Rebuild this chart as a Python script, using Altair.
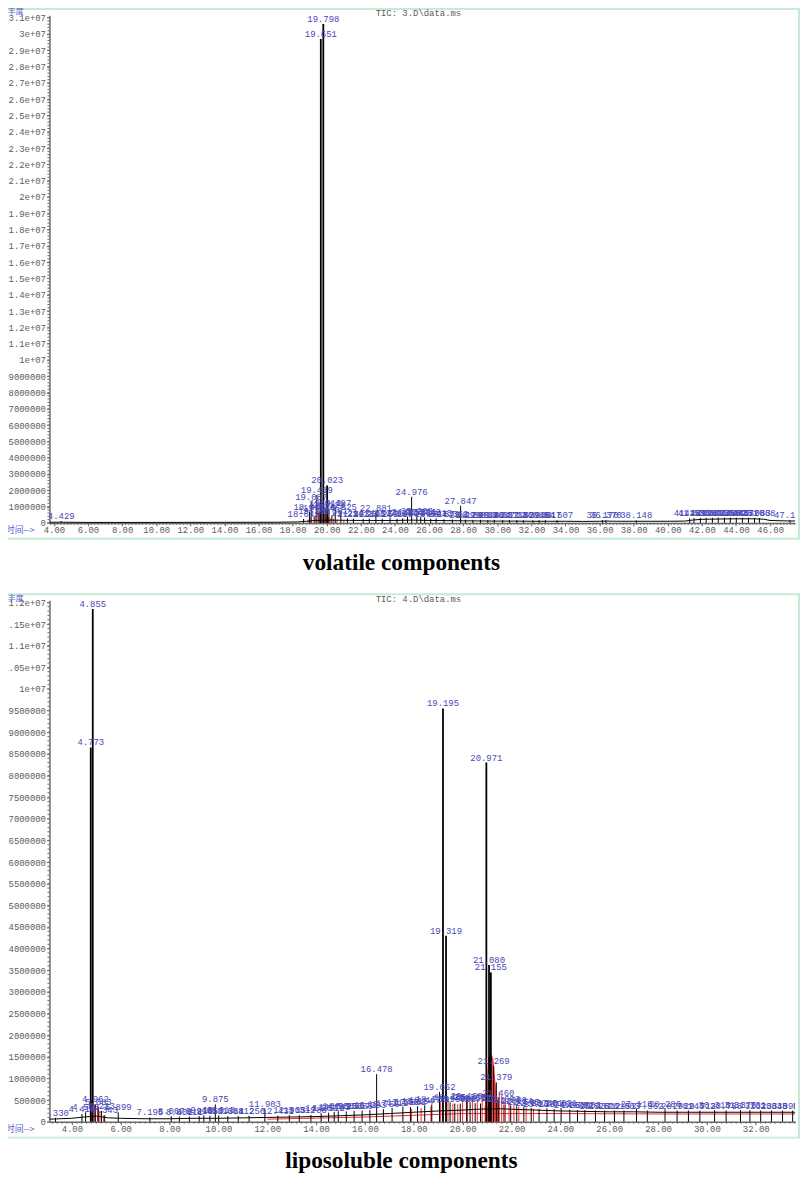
import altair as alt
import pandas as pd

# ---------------- volatile components (upper chromatogram) ----------------
vol_trace_t = [3.74, 4.30, 4.43, 4.55, 6.0, 10.0, 14.0, 17.0, 18.3, 18.8, 19.3, 20.3, 21.0, 22.0,
               23.0, 24.0, 25.0, 26.0, 27.0, 28.0, 29.0, 30.0, 31.0, 32.0, 33.0, 34.0, 35.0, 36.0,
               36.4, 37.0, 38.0, 39.0, 40.0, 41.0, 41.5, 42.0, 43.0, 44.0, 45.0, 45.6, 46.0, 47.0, 47.46]
vol_trace_v = [40000, 40000, 60000, 40000, 30000, 30000, 35000, 40000, 60000, 100000, 150000, 170000,
               160000, 150000, 150000, 150000, 170000, 150000, 140000, 130000, 120000, 110000, 110000,
               100000, 100000, 100000, 90000, 100000, 110000, 100000, 100000, 100000, 100000, 110000,
               180000, 220000, 240000, 250000, 250000, 230000, 150000, 120000, 120000]

vol_peak_t = [4.429, 18.642, 18.985, 19.087, 19.262, 19.419, 19.534, 19.651, 19.798, 19.912,
              20.023, 20.128, 20.301, 20.497, 20.825, 21.214, 21.563, 22.134, 22.495, 22.881,
              23.253, 23.712, 24.118, 24.452, 24.735, 24.976, 25.283, 25.511, 25.742, 26.094,
              26.413, 26.871, 27.362, 27.847, 28.129, 28.566, 29.013, 29.446, 29.824, 30.317,
              30.712, 31.146, 31.529, 32.088, 32.454, 32.817, 33.507, 36.170, 36.370, 38.148,
              41.281, 41.533, 41.908, 42.247, 42.612, 42.955, 43.318, 43.662, 44.015, 44.371,
              44.726, 45.083, 45.368, 47.164]
vol_peak_v = [90000, 250000, 700000, 1300000, 400000, 1700000, 600000, 29700000, 30620000, 900000,
              2300000, 800000, 450000, 900000, 700000, 280000, 260000, 250000, 260000, 620000,
              250000, 330000, 250000, 280000, 380000, 1600000, 400000, 380000, 340000, 260000,
              280000, 220000, 210000, 1050000, 200000, 190000, 190000, 180000, 180000, 180000,
              170000, 170000, 170000, 160000, 160000, 160000, 160000, 170000, 170000, 150000,
              280000, 300000, 300000, 310000, 310000, 320000, 320000, 320000, 320000, 320000,
              320000, 310000, 300000, 160000]

vol_red_t = [18.90, 19.02, 19.35, 19.58, 19.72, 19.86, 19.97, 20.09, 20.20, 20.40, 20.60, 21.00]
vol_red_v = [200000, 350000, 500000, 700000, 800000, 600000, 450000, 400000, 300000, 250000, 200000, 180000]

vol_x_ticks = [4, 6, 8, 10, 12, 14, 16, 18, 20, 22, 24, 26, 28, 30, 32, 34, 36, 38, 40, 42, 44, 46]
vol_y_ticks = [i * 1000000 for i in range(32)]

# ---------------- liposoluble components (lower chromatogram) ----------------
lip_trace_t = [3.08, 3.5, 4.0, 4.5, 5.0, 5.5, 6.0, 7.0, 8.0, 9.0, 10.0, 11.0, 12.0, 13.0, 14.0, 15.0,
               16.0, 17.0, 18.0, 19.0, 20.0, 20.6, 21.6, 22.0, 23.0, 24.0, 25.0, 26.0, 27.0, 28.0,
               29.0, 30.0, 31.0, 32.0, 33.0, 33.61]
lip_trace_v = [60000, 70000, 80000, 110000, 130000, 90000, 80000, 70000, 70000, 80000, 80000, 90000,
               100000, 110000, 120000, 140000, 160000, 190000, 220000, 250000, 270000, 290000, 300000,
               290000, 270000, 250000, 240000, 230000, 230000, 220000, 220000, 220000, 220000, 220000,
               220000, 220000]

lip_peak_t = [3.330, 4.412, 4.563, 4.773, 4.855, 4.962, 5.083, 5.213, 5.343, 5.899,
              7.195, 8.067, 8.402, 8.811, 9.213, 9.403, 9.653, 9.875, 10.013, 10.384,
              10.812, 11.256, 11.903, 12.431, 12.905, 13.312, 13.788, 14.207, 14.512, 14.743,
              14.908, 15.236, 15.557, 15.884, 16.203, 16.478, 16.756, 17.112, 17.553, 17.862,
              18.154, 18.447, 18.736, 19.052, 19.195, 19.319, 19.486, 19.678, 19.903, 20.163,
              20.305, 20.512, 20.731, 20.971, 21.080, 21.155, 21.269, 21.379, 21.460, 21.693,
              21.968, 22.214, 22.505, 22.807, 23.128, 23.451, 23.746, 24.031, 24.388, 24.702,
              25.003, 25.437, 25.812, 26.215, 26.603, 27.118, 27.562, 28.286, 28.781, 29.245,
              29.712, 30.316, 30.788, 31.376, 31.761, 32.203, 32.645, 33.098, 33.512]
lip_peak_v = [90000, 180000, 220000, 8650000, 11850000, 400000, 350000, 250000, 150000, 220000,
              100000, 130000, 120000, 120000, 130000, 150000, 140000, 400000, 150000, 130000,
              130000, 140000, 290000, 140000, 150000, 150000, 160000, 200000, 210000, 230000,
              240000, 240000, 250000, 260000, 270000, 1100000, 290000, 320000, 350000, 340000,
              360000, 380000, 400000, 690000, 9550000, 4300000, 450000, 420000, 420000, 480000,
              450000, 430000, 420000, 8300000, 3620000, 3450000, 1300000, 910000, 550000, 400000,
              380000, 360000, 340000, 320000, 300000, 310000, 290000, 320000, 280000, 270000,
              270000, 260000, 260000, 260000, 260000, 290000, 260000, 290000, 260000, 260000,
              260000, 270000, 260000, 270000, 270000, 260000, 260000, 260000, 260000]

lip_red_t = [4.80, 4.93, 5.05, 5.15, 5.30, 17.90, 18.30, 18.70, 19.10, 19.40, 19.60, 19.80, 20.00,
             20.20, 20.40, 20.60, 20.80, 21.50, 21.60, 21.75, 21.90, 22.10, 22.30, 22.60, 22.90]
lip_red_v = [500000, 400000, 350000, 250000, 150000, 300000, 320000, 350000, 450000, 500000, 420000,
             400000, 450000, 550000, 600000, 500000, 650000, 700000, 600000, 500000, 450000, 400000,
             350000, 330000, 300000]
lip_red_area_t = [20.90, 20.98, 21.05, 21.12, 21.19, 21.26, 21.33, 21.40, 21.46]
lip_red_area_v = [300000, 900000, 1450000, 1600000, 1550000, 1450000, 1000000, 600000, 350000]
lip_red_line_t = [12.0, 16.0, 20.0, 24.0, 28.0, 33.61]
lip_red_line_v = [60000, 110000, 190000, 190000, 180000, 180000]

lip_x_ticks = [4, 6, 8, 10, 12, 14, 16, 18, 20, 22, 24, 26, 28, 30, 32]
lip_y_ticks = [i * 500000 for i in range(25)]

# ---------------- styling ----------------
MONO = "Liberation Mono"
AX = "#6a6a6a"
LAB = "#5c5c5c"
BLUE = "#4747b8"
HEADBLUE = "#5a5ad0"
RED = "#f02828"
FRAME = "#c3ecd2"
W = 752
Y_EXPR = ("datum.value >= 10000000 ? format(datum.value / 10000000, '~g') + 'e+07' "
          ": format(datum.value, 'd')")
one = pd.DataFrame({"k": [0]})


def panel(trace_t, trace_v, peak_t, peak_v, red_t, red_v, xdom, ydom, xticks, yticks,
          xminor, yminor, H, tic, frame_top, head_y, title, extra=None):
    x_axis = alt.Axis(values=xticks, format=".2f", labelFont=MONO, labelFontSize=9,
                      labelColor=LAB, domainColor=AX, domainWidth=1.5, tickColor=AX, tickSize=3,
                      labelPadding=0, grid=False, title=None, labelFlush=False,
                      labelOverlap=False)
    y_axis = alt.Axis(values=yticks, labelExpr=Y_EXPR, labelFont=MONO, labelFontSize=9,
                      labelColor=LAB, domainColor=AX, domainWidth=1.5, tickColor=AX, tickSize=3,
                      labelPadding=1, grid=False, title=None, labelFlush=False,
                      labelOverlap=False)
    X = alt.X("t:Q", scale=alt.Scale(domain=xdom, nice=False, zero=False), axis=x_axis)
    Y = alt.Y("v:Q", scale=alt.Scale(domain=ydom, nice=False, zero=False), axis=y_axis)

    trace = pd.DataFrame({"t": trace_t, "v": trace_v})
    peaks = pd.DataFrame({"t": peak_t, "v": peak_v, "b": [0] * len(peak_t),
                          "lab": [f"{t:.3f}" for t in peak_t]})
    reds = pd.DataFrame({"t": red_t, "v": red_v, "b": [0] * len(red_t)})
    xm = pd.DataFrame({"t": xminor})
    ym = pd.DataFrame({"v": yminor})

    frame = alt.Chart(one).mark_rect(fill="white", fillOpacity=0, stroke=FRAME, strokeWidth=2).encode(
        x=alt.value(-44), x2=alt.value(W + 4), y=alt.value(frame_top), y2=alt.value(H + 16))

    layers = [frame]
    if extra is not None:
        layers += extra(X, Y)
    layers += [
        alt.Chart(reds).mark_rule(color=RED, strokeWidth=1).encode(x=X, y=Y, y2="b"),
        alt.Chart(trace).mark_line(color="black", strokeWidth=1).encode(x=X, y=Y),
        alt.Chart(peaks).mark_rule(color="black").encode(
            x=X, y=Y, y2="b",
            strokeWidth=alt.condition(alt.datum.v > 2000000, alt.value(1.8), alt.value(1))),
        alt.Chart(xm).mark_rule(color=AX, strokeWidth=1).encode(
            x=X, y=alt.value(H), y2=alt.value(H + 2)),
        alt.Chart(ym).mark_rule(color=AX, strokeWidth=1).encode(
            y=Y, x=alt.value(-2), x2=alt.value(0)),
        alt.Chart(peaks).mark_text(font=MONO, fontSize=9, color=BLUE, align="center",
                                   baseline="alphabetic", dy=-2, clip=True).encode(
            x=X, y=Y, text="lab:N"),
        alt.Chart(one).mark_text(font="Noto Sans CJK SC", fontSize=8, color=HEADBLUE,
                                 align="left", baseline="middle").encode(
            x=alt.value(-42), y=alt.value(head_y), text=alt.value("丰度")),
        alt.Chart(one).mark_text(font=MONO, fontSize=9, color=LAB, align="left",
                                 baseline="middle").encode(
            x=alt.value(329), y=alt.value(head_y + 0.5), text=alt.value(tic)),
        alt.Chart(one).mark_text(font="Noto Sans CJK SC", fontSize=9, color=HEADBLUE,
                                 align="left", baseline="middle").encode(
            x=alt.value(-44), y=alt.value(H + 7.5), text=alt.value("时间-->")),
        alt.Chart(one).mark_text(font="Liberation Serif", fontSize=23.5, fontWeight="bold",
                                 color="black", align="center", baseline="alphabetic").encode(
            x=alt.value(355), y=alt.value(H + 47), text=alt.value(title)),
    ]
    return alt.layer(*layers).properties(width=W, height=H)


def lip_extra(X, Y):
    area = pd.DataFrame({"t": lip_red_area_t, "v": lip_red_area_v})
    rline = pd.DataFrame({"t": lip_red_line_t, "v": lip_red_line_v})
    return [
        alt.Chart(area).mark_area(color=RED, opacity=0.85).encode(x=X, y=Y),
        alt.Chart(rline).mark_line(color=RED, strokeWidth=1).encode(x=X, y=Y),
    ]


top = panel(vol_trace_t, vol_trace_v, vol_peak_t, vol_peak_v, vol_red_t, vol_red_v,
            [3.738, 47.46], [0, 31150000], vol_x_ticks, vol_y_ticks,
            [round(3.8 + 0.2 * i, 1) for i in range(219)],
            [i * 200000 for i in range(156)],
            512, "TIC: 3.D\\data.ms", -6.4, -3, "volatile components")

bottom = panel(lip_trace_t, lip_trace_v, lip_peak_t, lip_peak_v, lip_red_t, lip_red_v,
               [3.082, 33.61], [0, 12050000], lip_x_ticks, lip_y_ticks,
               [round(3.2 + 0.2 * i, 1) for i in range(153)],
               [i * 100000 for i in range(121)],
               526, "TIC: 4.D\\data.ms", -6, -1.5, "liposoluble components", extra=lip_extra)

chart = alt.vconcat(top, bottom, spacing=78, bounds="flush").properties(
    padding={"left": -6.2, "top": -5.7, "right": 0, "bottom": 0}
).configure_view(stroke="transparent")

chart.save("out.html", embed_options={"renderer": "svg", "actions": False})
